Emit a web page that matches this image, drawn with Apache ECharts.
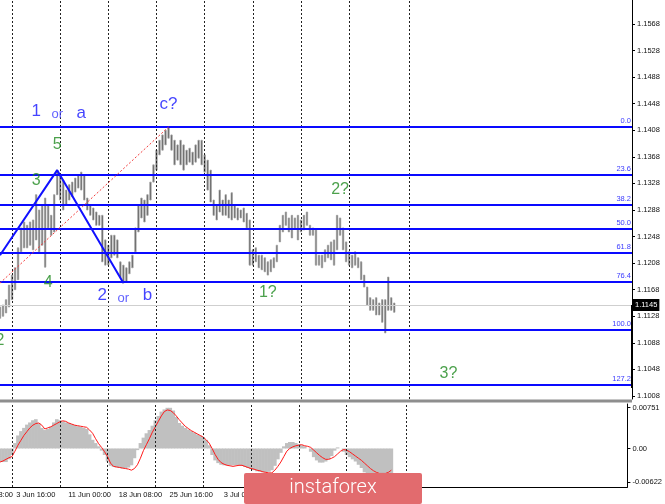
<!DOCTYPE html>
<html>
<head>
<meta charset="utf-8">
<script src="https://cdn.jsdelivr.net/npm/echarts@6/dist/echarts.min.js"></script>
<style>
  html, body { margin: 0; padding: 0; background: #fff; }
  #chart { width: 665px; height: 504px; }
</style>
</head>
<body>
<div id="chart"></div>
<script>
// EURUSD bars, one entry per bar (high / low)
var highs = [
  1.1142, 1.1145, 1.1153, 1.1175, 1.1190, 1.1201, 1.1231, 1.1261, 1.1270, 1.1265,
  1.1270, 1.1273, 1.1311, 1.1288, 1.1296, 1.1306, 1.1296, 1.1280, 1.1311, 1.1348,
  1.1341, 1.1333, 1.1318, 1.1326, 1.1330, 1.1336, 1.1341, 1.1345, 1.1341, 1.1306,
  1.1296, 1.1291, 1.1285, 1.1280, 1.1280, 1.1243, 1.1235, 1.1250, 1.1250, 1.1243,
  1.1210, 1.1205, 1.1201, 1.1210, 1.1220, 1.1261, 1.1296, 1.1306, 1.1303, 1.1311,
  1.1330, 1.1356, 1.1378, 1.1393, 1.1401, 1.1408, 1.1413, 1.1401, 1.1393, 1.1386,
  1.1393, 1.1386, 1.1378, 1.1381, 1.1375, 1.1386, 1.1393, 1.1393, 1.1371, 1.1363,
  1.1348, 1.1303, 1.1296, 1.1318, 1.1303, 1.1311, 1.1303, 1.1314, 1.1296, 1.1291,
  1.1288, 1.1291, 1.1283, 1.1273, 1.1228, 1.1231, 1.1220, 1.1220, 1.1216, 1.1210,
  1.1213, 1.1216, 1.1235, 1.1265, 1.1280, 1.1285, 1.1276, 1.1280, 1.1276, 1.1280,
  1.1273, 1.1280, 1.1285, 1.1265, 1.1261, 1.1258, 1.1220, 1.1220, 1.1228, 1.1235,
  1.1240, 1.1243, 1.1280, 1.1276, 1.1261, 1.1240, 1.1225, 1.1220, 1.1225, 1.1216,
  1.1210, 1.1190, 1.1172, 1.1156, 1.1153, 1.1156, 1.1148, 1.1153, 1.1153, 1.1187,
  1.1156, 1.1148
];
var lows = [
  1.1125, 1.1128, 1.1133, 1.1142, 1.1153, 1.1168, 1.1183, 1.1225, 1.1231, 1.1231,
  1.1235, 1.1228, 1.1243, 1.1225, 1.1235, 1.1202, 1.1261, 1.1250, 1.1255, 1.1311,
  1.1303, 1.1288, 1.1296, 1.1303, 1.1308, 1.1315, 1.1321, 1.1318, 1.1303, 1.1288,
  1.1280, 1.1273, 1.1265, 1.1265, 1.1210, 1.1205, 1.1205, 1.1216, 1.1220, 1.1216,
  1.1186, 1.1178, 1.1179, 1.1192, 1.1201, 1.1225, 1.1255, 1.1276, 1.1270, 1.1280,
  1.1303, 1.1330, 1.1348, 1.1371, 1.1378, 1.1386, 1.1396, 1.1378, 1.1356, 1.1363,
  1.1356, 1.1348, 1.1356, 1.1360, 1.1356, 1.1360, 1.1366, 1.1356, 1.1345, 1.1318,
  1.1300, 1.1280, 1.1273, 1.1285, 1.1280, 1.1280, 1.1276, 1.1273, 1.1276, 1.1273,
  1.1276, 1.1270, 1.1261, 1.1205, 1.1205, 1.1210, 1.1201, 1.1198, 1.1195, 1.1190,
  1.1195, 1.1201, 1.1210, 1.1240, 1.1255, 1.1265, 1.1255, 1.1246, 1.1261, 1.1243,
  1.1255, 1.1258, 1.1265, 1.1250, 1.1250, 1.1205, 1.1205, 1.1201, 1.1210, 1.1216,
  1.1213, 1.1205, 1.1228, 1.1250, 1.1228, 1.1210, 1.1205, 1.1201, 1.1205, 1.1201,
  1.1183, 1.1172, 1.1145, 1.1137, 1.1137, 1.1130, 1.1130, 1.1119, 1.1103, 1.1137,
  1.1137, 1.1134
];

// MACD histogram and signal
var macdHist = [
  -0.0024, -0.0025, -0.0025, -0.0020, -0.0012, 0.0010, 0.0024, 0.0032, 0.0038, 0.0044,
  0.0048, 0.0052, 0.0054, 0.0046, 0.0038, 0.0034, 0.0036, 0.0040, 0.0048, 0.0054,
  0.0052, 0.0050, 0.0048, 0.0047, 0.0045, 0.0043, 0.0041, 0.0040, 0.0038, 0.0036,
  0.0026, 0.0016, 0.0010, 0.0004, -0.0004, -0.0012, -0.0024, -0.0032, -0.0034, -0.0035,
  -0.0036, -0.0037, -0.0037, -0.0035, -0.0031, -0.0018, -0.0003, 0.0010, 0.0020, 0.0028,
  0.0034, 0.0042, 0.0052, 0.0060, 0.0068, 0.0072, 0.0075, 0.0075, 0.0070, 0.0058,
  0.0047, 0.0042, 0.0038, 0.0035, 0.0032, 0.0029, 0.0026, 0.0024, 0.0021, 0.0016,
  0.0006, -0.0012, -0.0022, -0.0027, -0.0030, -0.0031, -0.0031, -0.0031, -0.0031, -0.0031,
  -0.0031, -0.0032, -0.0034, -0.0036, -0.0038, -0.0040, -0.0042, -0.0043, -0.0044, -0.0044,
  -0.0043, -0.0040, -0.0032, -0.0020, -0.0008, 0.0004, 0.0010, 0.0012, 0.0012, 0.0010,
  0.0008, 0.0006, 0.0004, 0.0000, -0.0006, -0.0016, -0.0022, -0.0026, -0.0026, -0.0024,
  -0.0020, -0.0014, -0.0004, 0.0002, 0.0000, -0.0006, -0.0012, -0.0016, -0.0020, -0.0024,
  -0.0030, -0.0036, -0.0044, -0.0050, -0.0054, -0.0057, -0.0060, -0.0062, -0.0062, -0.0056,
  -0.0055, -0.0054
];
var macdSignal = [
  -0.0025, -0.0023, -0.0020, -0.0017, -0.0015, -0.0005, 0.0006, 0.0015, 0.0024, 0.0031,
  0.0038, 0.0043, 0.0046, 0.0047, 0.0043, 0.0036, 0.0038, 0.0040, 0.0043, 0.0046,
  0.0049, 0.0051, 0.0050, 0.0047, 0.0045, 0.0043, 0.0042, 0.0041, 0.0040, 0.0039,
  0.0034, 0.0028, 0.0018, 0.0009, 0.0002, -0.0006, -0.0015, -0.0027, -0.0033, -0.0034,
  -0.0035, -0.0036, -0.0037, -0.0038, -0.0040, -0.0037, -0.0030, -0.0018, -0.0004, 0.0007,
  0.0018, 0.0030, 0.0040, 0.0050, 0.0060, 0.0068, 0.0071, 0.0070, 0.0066, 0.0060,
  0.0053, 0.0047, 0.0041, 0.0037, 0.0033, 0.0030, 0.0027, 0.0024, 0.0021, 0.0016,
  0.0010, 0.0000, -0.0011, -0.0020, -0.0026, -0.0029, -0.0031, -0.0032, -0.0033, -0.0032,
  -0.0031, -0.0031, -0.0033, -0.0035, -0.0037, -0.0038, -0.0040, -0.0041, -0.0043, -0.0044,
  -0.0045, -0.0045, -0.0040, -0.0033, -0.0025, -0.0015, -0.0005, 0.0000, 0.0003, 0.0005,
  0.0006, 0.0007, 0.0005, 0.0004, 0.0002, -0.0003, -0.0008, -0.0013, -0.0017, -0.0020,
  -0.0020, -0.0018, -0.0015, -0.0010, -0.0005, -0.0002, -0.0003, -0.0006, -0.0010, -0.0014,
  -0.0018, -0.0022, -0.0027, -0.0032, -0.0037, -0.0041, -0.0044, -0.0046, -0.0046, -0.0046,
  -0.0044, -0.0040
];

var priceTicks = [1.1008, 1.1048, 1.1088, 1.1128, 1.1168, 1.1208, 1.1248, 1.1288,
  1.1328, 1.1368, 1.1408, 1.1448, 1.1488, 1.1528, 1.1568];
var macdTicks = [-0.00622, 0, 0.00751];

var fibNames = ['0.0', '23.6', '38.2', '50.0', '61.8', '76.4', '100.0', '127.2'];
var fibPrices = [1.14129, 1.13408, 1.12962, 1.12601, 1.12241, 1.11795, 1.11074, 1.10243];
var lastPrice = 1.1145;

var timeLabels = ['3 Jun 16:00', '11 Jun 00:00', '18 Jun 08:00', '25 Jun 16:00', '3 Jul 00:00', '10 Jul 08:00'];
var timeLabelIdx = [12, 30, 47, 64, 81, 98];
var gridIdx = [4, 20, 36, 52, 68, 84, 100, 116, 136];
var slotCount = 211;

// drawn objects: wave lines and fib anchor line
var waveLine = [[0, 1.1220], [19, 1.1348], [41, 1.1178]];
var fibTrend = [[0, 1.1178], [56, 1.1413]];

// wave tags: [text, index, price, kind]
var waveTags = [
  ['1', 12, 1.1436, 'big'], ['or', 19, 1.1432, 'small'], ['a', 27, 1.1434, 'big'],
  ['c?', 56, 1.1447, 'big'],
  ['5', 19, 1.1386, 'green'], ['3', 12, 1.1332, 'green'], ['4', 16, 1.1179, 'green'],
  ['2', 34, 1.1159, 'big'], ['or', 41, 1.1155, 'small'], ['b', 49, 1.1159, 'big'],
  ['2?', 113, 1.1318, 'green'], ['1?', 89, 1.1164, 'green'], ['3?', 149, 1.1041, 'green'],
  ['2', 0, 1.1092, 'green']
];

var FONT = 'Liberation Sans';
var blankCats = [];
var timeCats = [];
for (var i = 0; i < slotCount; i++) { blankCats.push(''); timeCats.push(''); }
timeLabelIdx.forEach(function (idx, k) { timeCats[idx] = timeLabels[k]; });

var bars = highs.map(function (h, k) { return [k, lows[k], h]; });

var tagStyle = {
  big: { color: '#1414ff', fontSize: 17 },
  small: { color: '#3a3aff', fontSize: 13 },
  green: { color: '#1f8a1f', fontSize: 16 }
};
var tagData = waveTags.map(function (t) {
  var s = tagStyle[t[3]];
  return {
    value: [t[1], t[2]],
    label: { show: true, formatter: t[0], color: s.color, fontSize: s.fontSize, fontFamily: FONT, position: 'inside' }
  };
});

var vLines = gridIdx.map(function (v) { return { xAxis: v }; });
var dashStyle = { color: '#222', width: 1, type: [2, 2] };

var chart = echarts.init(document.getElementById('chart'));
chart.setOption({
  animation: false,
  backgroundColor: '#fff',
  textStyle: { fontFamily: FONT },
  grid: [
    { left: 0, right: 33, top: 0, height: 399 },
    { left: 0, right: 33, top: 404, height: 83 }
  ],
  xAxis: [
    {
      type: 'category', gridIndex: 0, data: blankCats, boundaryGap: false,
      axisLine: { show: false }, axisTick: { show: false }, axisLabel: { show: false }, splitLine: { show: false }
    },
    {
      type: 'category', gridIndex: 1, data: timeCats, boundaryGap: false,
      axisLine: { show: true, onZero: false, lineStyle: { color: '#000', width: 1 } },
      axisTick: { show: false },
      axisLabel: {
        show: true, color: '#111', fontSize: 7.5, fontFamily: FONT, margin: 4,
        interval: function (idx, val) { return val !== ''; }
      },
      splitLine: { show: false }
    }
  ],
  yAxis: [
    {
      type: 'value', gridIndex: 0, position: 'right', min: 1.10035, max: 1.16041,
      axisLine: { show: true, onZero: false, lineStyle: { color: '#000', width: 1 } },
      axisTick: { show: true, length: 3, lineStyle: { color: '#000' }, customValues: priceTicks },
      axisLabel: {
        show: true, color: '#111', fontSize: 7.5, fontFamily: FONT, margin: 5, customValues: priceTicks,
        formatter: function (v) { return v.toFixed(4); }
      },
      splitLine: { show: false }
    },
    {
      type: 'value', gridIndex: 1, position: 'right', min: -0.0071, max: 0.0082,
      axisLine: { show: true, onZero: false, lineStyle: { color: '#000', width: 1 } },
      axisTick: { show: true, length: 3, lineStyle: { color: '#000' }, customValues: macdTicks },
      axisLabel: {
        show: true, color: '#111', fontSize: 7.5, fontFamily: FONT, margin: 5, customValues: macdTicks,
        formatter: function (v) { return v === 0 ? '0.00' : v.toFixed(5); }
      },
      splitLine: { show: false }
    }
  ],
  series: [
    {
      // time grid, main pane
      type: 'line', xAxisIndex: 0, yAxisIndex: 0, data: [], z: 1,
      markLine: { silent: true, symbol: 'none', label: { show: false }, lineStyle: dashStyle, data: vLines }
    },
    {
      // time grid, MACD pane
      type: 'line', xAxisIndex: 1, yAxisIndex: 1, data: [], z: 1,
      markLine: { silent: true, symbol: 'none', label: { show: false }, lineStyle: dashStyle, data: vLines }
    },
    {
      // last price line + label
      type: 'line', xAxisIndex: 0, yAxisIndex: 0, data: [], z: 2,
      markLine: {
        silent: true, symbol: 'none', precision: 5,
        lineStyle: { color: '#cfcfcf', width: 1, type: 'solid' },
        label: {
          show: true, position: 'end', distance: 1, formatter: lastPrice.toFixed(4),
          backgroundColor: '#000', color: '#fff', fontSize: 7.5, fontFamily: FONT, padding: [2, 2, 2, 2]
        },
        data: [{ yAxis: lastPrice }]
      }
    },
    {
      // high-low bars
      type: 'custom', xAxisIndex: 0, yAxisIndex: 0, data: bars, z: 3,
      encode: { x: 0, y: [1, 2] },
      renderItem: function (params, api) {
        var lo = api.coord([api.value(0), api.value(1)]);
        var hi = api.coord([api.value(0), api.value(2)]);
        return {
          type: 'rect',
          shape: { x: lo[0] - 0.7, y: hi[1], width: 1.4, height: Math.max(lo[1] - hi[1], 1) },
          style: { fill: '#4e4e4e', stroke: '#a6a6a6', lineWidth: 0.8 }
        };
      }
    },
    {
      // fibonacci levels
      type: 'line', xAxisIndex: 0, yAxisIndex: 0, data: [], z: 4,
      markLine: {
        silent: true, symbol: 'none', precision: 5,
        lineStyle: { color: '#0a0aff', width: 2, type: 'solid' },
        label: {
          show: true, position: 'insideEndTop', distance: [1, 2], color: '#3b3bff',
          fontSize: 7.5, fontFamily: FONT
        },
        data: fibPrices.map(function (p, k) { return { yAxis: p, label: { formatter: fibNames[k] } }; })
      }
    },
    {
      type: 'line', xAxisIndex: 0, yAxisIndex: 0, data: fibTrend, z: 5, symbol: 'none',
      lineStyle: { color: '#f23c3c', width: 1, type: [2, 2] }
    },
    {
      type: 'line', xAxisIndex: 0, yAxisIndex: 0, data: waveLine, z: 6, symbol: 'none',
      lineStyle: { color: '#1010ff', width: 2 }
    },
    {
      type: 'scatter', xAxisIndex: 0, yAxisIndex: 0, data: tagData, symbolSize: 0, z: 7, clip: false
    },
    {
      type: 'bar', xAxisIndex: 1, yAxisIndex: 1, data: macdHist, barWidth: 3.6, z: 3,
      itemStyle: { color: '#c0c0c0' }
    },
    {
      type: 'line', xAxisIndex: 1, yAxisIndex: 1, data: macdSignal, z: 4, symbol: 'none',
      lineStyle: { color: '#ff1a1a', width: 1 }
    }
  ],
  graphic: [
    { type: 'rect', z: 50, shape: { x: 0, y: 399.5, width: 632, height: 3 }, style: { fill: '#8e8e8e' } },
    { type: 'rect', z: 50, shape: { x: 631, y: 305, width: 2, height: 83 }, style: { fill: '#000' } },
    { type: 'text', z: 50, style: { text: '27 May 08:00', x: 13, y: 495, align: 'right', verticalAlign: 'middle', fill: '#111', font: '7.5px "Liberation Sans"' } },
    { type: 'rect', z: 100, shape: { x: 244, y: 473, width: 178, height: 31, r: 2 }, style: { fill: '#e26b6e' } },
    { type: 'text', z: 101, style: { text: 'instaforex', x: 333, y: 488, align: 'center', verticalAlign: 'middle', fill: '#fff', font: '300 20px Roboto' } }
  ]
});
</script>
</body>
</html>
